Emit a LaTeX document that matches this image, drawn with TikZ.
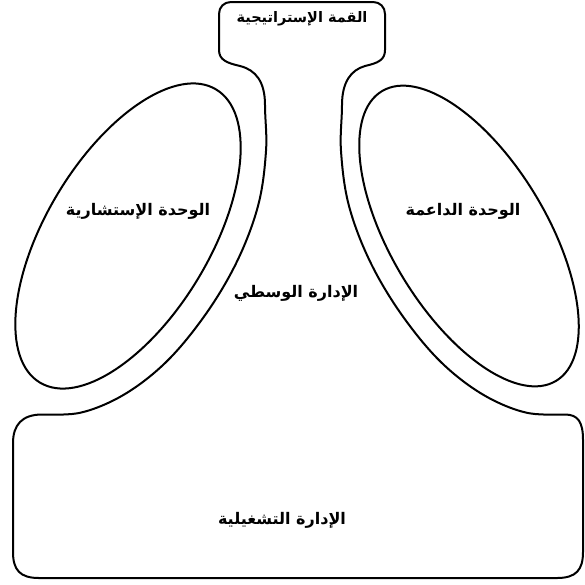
\documentclass[tikz,border=0pt]{standalone}
\usepackage{fontspec}
\newfontfamily\arabicfont[Script=Arabic]{DejaVu Sans}
\TeXXeTstate=1
\begin{document}
\begin{tikzpicture}[x=1pt,y=-1pt,
  outline/.style={line width=2pt, line join=round},
  lbl/.style={font=\arabicfont\bfseries\fontsize{16}{18}\selectfont, inner sep=0pt},
  toplbl/.style={font=\arabicfont\bfseries\fontsize{14.5}{17}\selectfont, inner sep=0pt}]
\useasboundingbox (0,0) rectangle (585,584);
% overall outline
\draw[outline]
  (231,2) -- (373,2) .. controls (380,2) and (385,7) .. (385,14)
  -- (385,50) .. controls (385,60) and (378,63) .. (365,66)
  .. controls (351,70) and (342,82) .. (342,105)
  .. controls (342,120.3) and (339.8,134.2) .. (341,151)
  .. controls (342.2,167.8) and (344,187.25) .. (349,206)
  .. controls (354,224.75) and (361.8,244.8) .. (371,263.5)
  .. controls (380.2,282.2) and (391.8,301.1) .. (404,318)
  .. controls (416.2,334.9) and (429.8,351.7) .. (444,365)
  .. controls (458.2,378.3) and (473.8,389.8) .. (489,398)
  .. controls (504.2,406.2) and (522.3,413) .. (535,414)
  .. controls (547.7,415) and (555,414.5) .. (565,414.5)
  .. controls (578,414.5) and (583,422) .. (583,440)
  -- (583,552) .. controls (583,570) and (576,578) .. (557,578)
  -- (39,578) .. controls (20,578) and (13,570) .. (13,552)
  -- (13,443) .. controls (13,425) and (22,414.5) .. (42,414.5)
  .. controls (52,414.5) and (59.3,415) .. (72,414)
  .. controls (84.7,413) and (102.8,406.2) .. (118,398)
  .. controls (133.2,389.8) and (148.8,378.3) .. (163,365)
  .. controls (177.2,351.7) and (190.8,334.9) .. (203,318)
  .. controls (215.2,301.1) and (226.8,282.2) .. (236,263.5)
  .. controls (245.2,244.8) and (253,224.75) .. (258,206)
  .. controls (263,187.25) and (264.8,167.8) .. (266,151)
  .. controls (267.2,134.2) and (265,120.3) .. (265,105)
  .. controls (265,82) and (256,70) .. (240,66)
  .. controls (227,63) and (219,60) .. (219,50)
  -- (219,14) .. controls (219,7) and (224,2) .. (231,2) -- cycle;
% ellipses
\draw[outline, rotate around={59:(128,236)}] (128,236) ellipse [x radius=171pt, y radius=82pt];
\draw[outline, rotate around={-59:(469,236)}] (469,236) ellipse [x radius=169pt, y radius=78pt];
% labels
\node[toplbl] (apex) at (302,19) {\beginR القمة الإستراتيجية\endR};
\node[lbl] (staff) at (138,211) {\beginR الوحدة الإستشارية\endR};
\node[lbl] (support) at (463,211) {\beginR الوحدة الداعمة\endR};
\node[lbl] (middle) at (296,293) {\beginR الإدارة الوسطي\endR};
\node[lbl] (core) at (282,520) {\beginR الإدارة التشغيلية\endR};
\end{tikzpicture}
\end{document}
